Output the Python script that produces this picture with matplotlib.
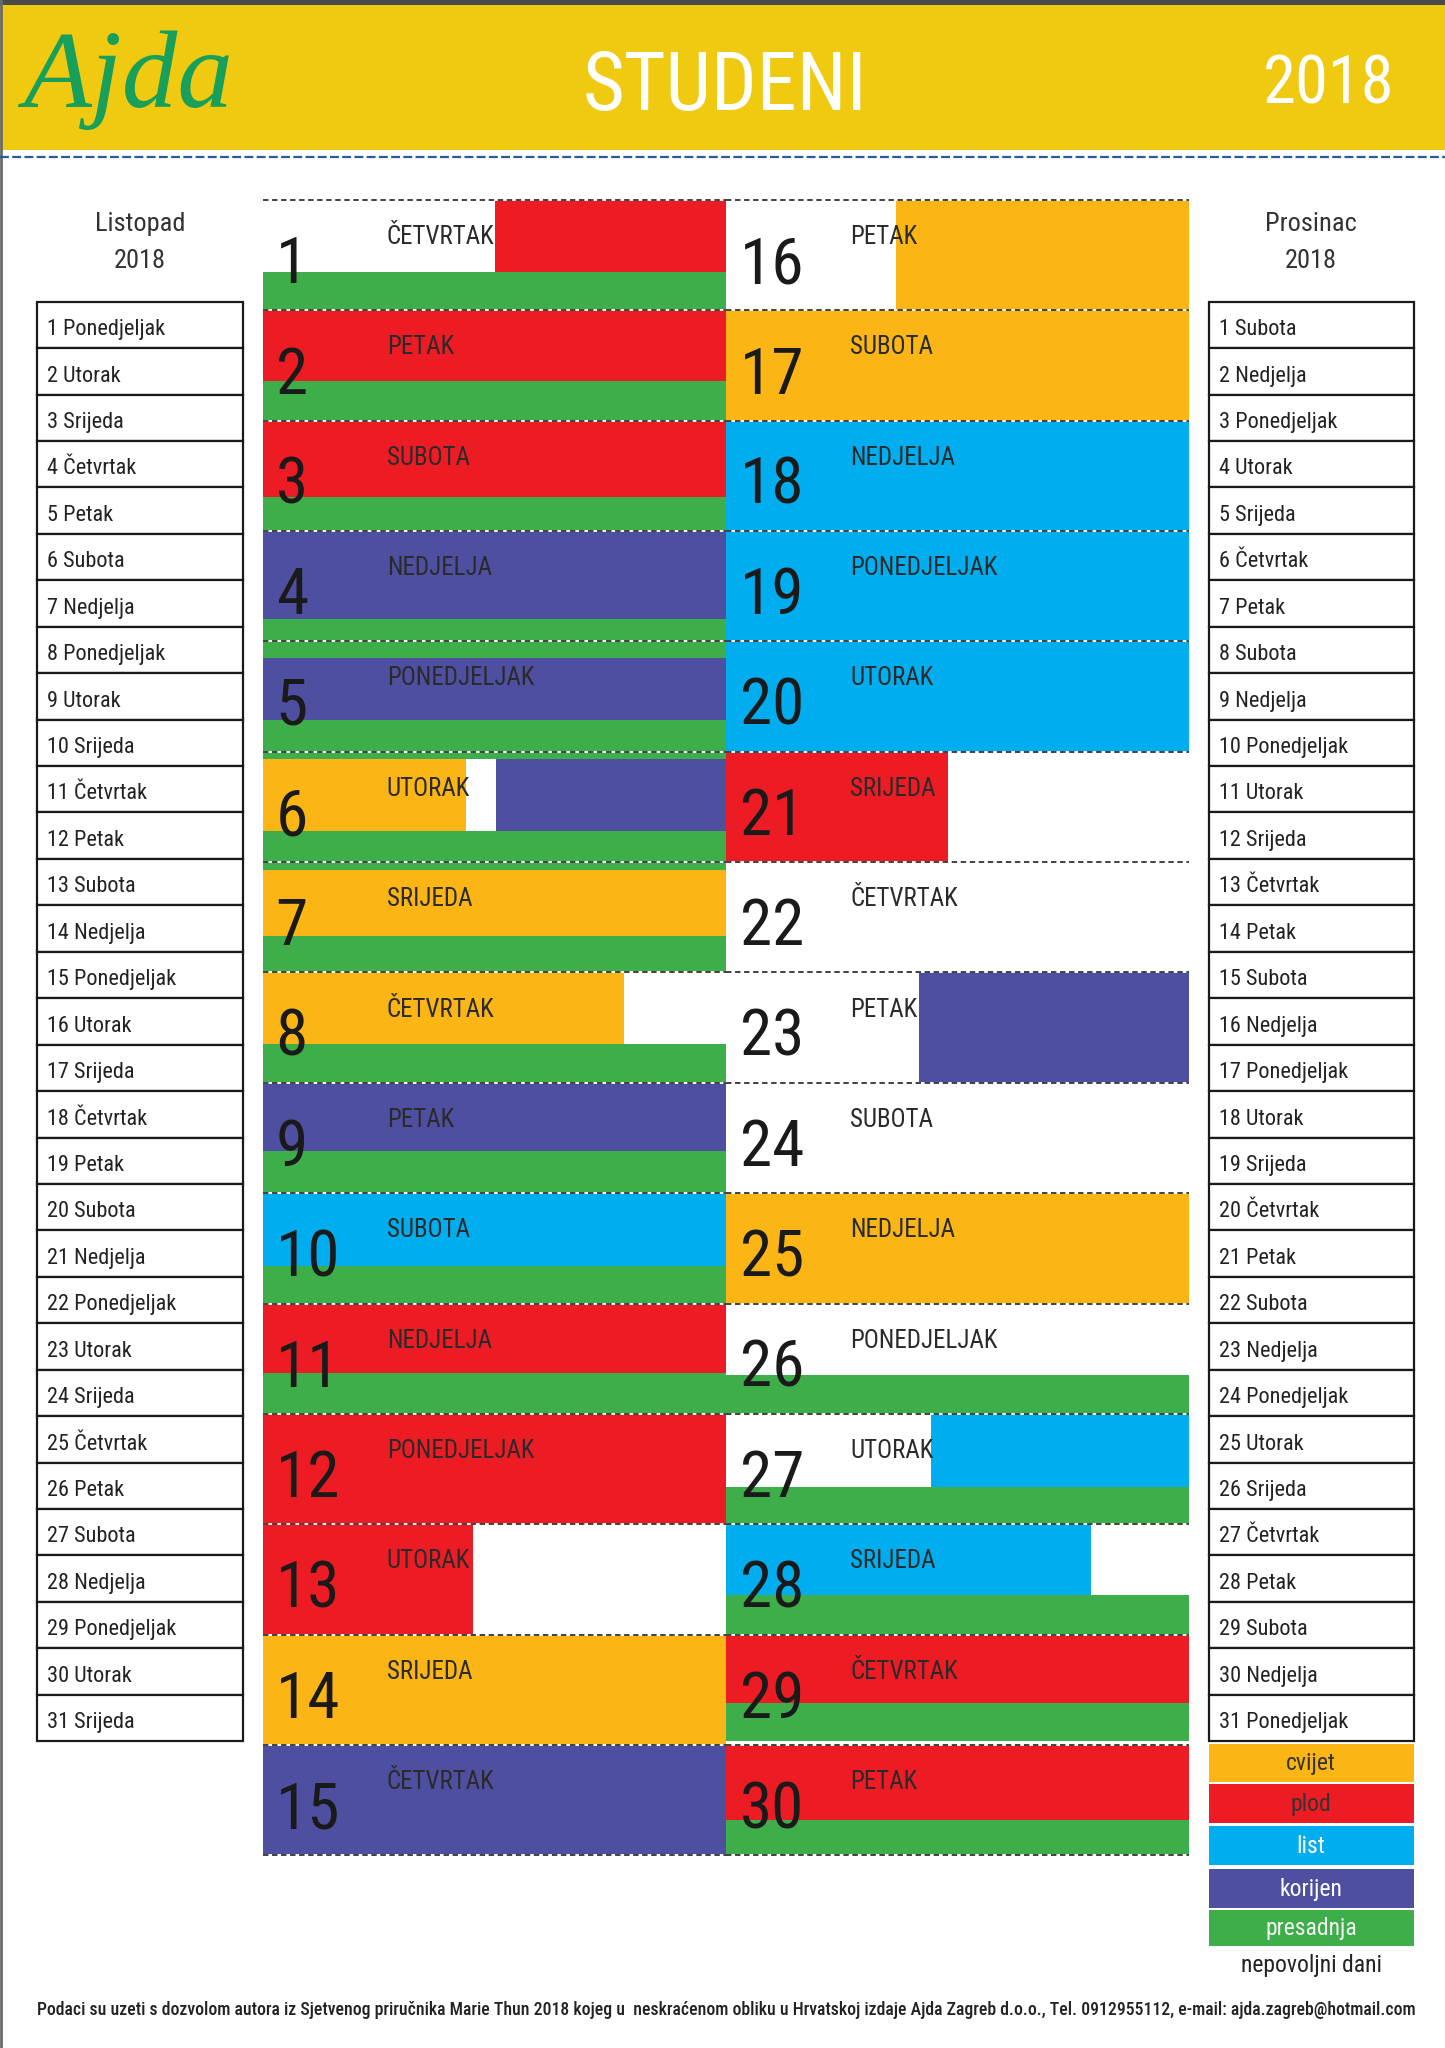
import matplotlib
matplotlib.use('Agg')
import matplotlib.pyplot as plt
from matplotlib.patches import Rectangle

# ---------------- data ----------------
month_title = 'STUDENI'
year_label = '2018'
days = list(range(1, 31))
weekdays = ['ČETVRTAK', 'PETAK', 'SUBOTA', 'NEDJELJA', 'PONEDJELJAK', 'UTORAK', 'SRIJEDA',
            'ČETVRTAK', 'PETAK', 'SUBOTA', 'NEDJELJA', 'PONEDJELJAK', 'UTORAK', 'SRIJEDA',
            'ČETVRTAK', 'PETAK', 'SUBOTA', 'NEDJELJA', 'PONEDJELJAK', 'UTORAK', 'SRIJEDA',
            'ČETVRTAK', 'PETAK', 'SUBOTA', 'NEDJELJA', 'PONEDJELJAK', 'UTORAK', 'SRIJEDA',
            'ČETVRTAK', 'PETAK']

# upper band of each day: (day, from hour, to hour, element)
segment_day = [1, 2, 3, 4, 5, 6, 6, 7, 8, 9, 10, 11, 12, 13, 14, 15,
               16, 17, 18, 19, 20, 21, 23, 25, 27, 28, 29, 30]
segment_start = [12.0, 0, 0, 0, 0, 0, 12.1, 0, 0, 0, 0, 0, 0, 0, 0, 0,
                 8.8, 0, 0, 0, 0, 0, 10.0, 0, 10.6, 0, 0, 0]
segment_end = [24, 24, 24, 24, 24, 10.5, 24, 24, 18.7, 24, 24, 24, 24, 10.9, 24, 24,
               24, 24, 24, 24, 24, 11.5, 24, 24, 24, 18.9, 24, 24]
segment_element = ['plod', 'plod', 'plod', 'korijen', 'korijen', 'cvijet', 'korijen', 'cvijet',
                   'cvijet', 'korijen', 'list', 'plod', 'plod', 'plod', 'cvijet', 'korijen',
                   'cvijet', 'cvijet', 'list', 'list', 'list', 'plod', 'korijen', 'cvijet',
                   'list', 'list', 'plod', 'plod']

# presadnja (green) strips: (day, from, to) as fraction of the day's row
green_day = [1, 2, 3, 4, 5, 5, 6, 6, 7, 7, 8, 9, 10, 11, 26, 27, 28, 29, 30]
green_from = [0.65, 0.64, 0.69, 0.80, 0.00, 0.71, 0.00, 0.72, 0.00, 0.67, 0.65, 0.62, 0.66,
              0.63, 0.65, 0.66, 0.64, 0.62, 0.68]
green_to = [1.0, 1.0, 1.0, 1.0, 0.15, 1.0, 0.07, 1.0, 0.07, 1.0, 1.0, 1.0, 1.0,
            1.0, 1.0, 1.0, 1.0, 0.96, 1.0]

prev_month = 'Listopad'
prev_month_days = ['1 Ponedjeljak', '2 Utorak', '3 Srijeda', '4 Četvrtak', '5 Petak', '6 Subota',
                   '7 Nedjelja', '8 Ponedjeljak', '9 Utorak', '10 Srijeda', '11 Četvrtak',
                   '12 Petak', '13 Subota', '14 Nedjelja', '15 Ponedjeljak', '16 Utorak',
                   '17 Srijeda', '18 Četvrtak', '19 Petak', '20 Subota', '21 Nedjelja',
                   '22 Ponedjeljak', '23 Utorak', '24 Srijeda', '25 Četvrtak', '26 Petak',
                   '27 Subota', '28 Nedjelja', '29 Ponedjeljak', '30 Utorak', '31 Srijeda']
next_month = 'Prosinac'
next_month_days = ['1 Subota', '2 Nedjelja', '3 Ponedjeljak', '4 Utorak', '5 Srijeda',
                   '6 Četvrtak', '7 Petak', '8 Subota', '9 Nedjelja', '10 Ponedjeljak',
                   '11 Utorak', '12 Srijeda', '13 Četvrtak', '14 Petak', '15 Subota',
                   '16 Nedjelja', '17 Ponedjeljak', '18 Utorak', '19 Srijeda', '20 Četvrtak',
                   '21 Petak', '22 Subota', '23 Nedjelja', '24 Ponedjeljak', '25 Utorak',
                   '26 Srijeda', '27 Četvrtak', '28 Petak', '29 Subota', '30 Nedjelja',
                   '31 Ponedjeljak']

legend_labels = ['cvijet', 'plod', 'list', 'korijen', 'presadnja']
legend_last = 'nepovoljni dani'
footer = ('Podaci su uzeti s dozvolom autora iz Sjetvenog priručnika Marie Thun 2018 kojeg u  '
          'neskraćenom obliku u Hrvatskoj izdaje Ajda Zagreb d.o.o., Tel. 0912955112, '
          'e-mail: ajda.zagreb@hotmail.com')

# ---------------- style ----------------
element_colors = {'cvijet': '#FBB515', 'plod': '#ED1C24', 'list': '#00AEEF',
                  'korijen': '#4F4FA1', 'presadnja': '#3DAE49'}
legend_text_colors = ['#333333', '#333333', 'white', 'white', '#F2F2F2']
HEADER = '#F0C911'
INK = '#222222'

FONT = ['Ubuntu Condensed', 'Roboto Condensed', 'Liberation Sans Narrow', 'DejaVu Sans',
        'Noto Sans']
plt.rcParams['font.family'] = FONT
plt.rcParams['font.stretch'] = 'condensed'

W, H = 1106, 1568          # layout units
fig = plt.figure(figsize=(14.45, 20.48), dpi=100)
base = fig.add_axes([0, 0, 1, 1])
base.set_xlim(0, W)
base.set_ylim(H, 0)
base.axis('off')


def frac_rect(x0, y0, x1, y1):
    return [x0 / W, 1 - y1 / H, (x1 - x0) / W, (y1 - y0) / H]


# header
base.add_patch(Rectangle((0, 0), W, 3.5, color='#4a4a4a', lw=0))
base.add_patch(Rectangle((0, 3.5), W, 111.5, color=HEADER, lw=0))
base.plot([1, 1], [0, H], color='#6a6a6a', lw=2)
base.plot([0, W], [120, 120], color='#2c5a9a', lw=1.6, dashes=(4, 1.5))
base.text(555, 84, month_title, color='white', fontsize=58, ha='center', va='baseline')
base.text(1017, 79, year_label, color='white', fontsize=48, ha='center', va='baseline')
base.text(18, 82, 'Ajda', color='#18A05A', fontsize=80, ha='left', va='baseline',
          family=['Liberation Serif', 'DejaVu Serif'], fontstyle='italic',
          fontweight='light', stretch='normal')

# grid of days
grid_top, row_h, n_rows = 153, 84.5, 15
cols = [(201, 556), (556, 910)]
axes = []
for x0, x1 in cols:
    ax = fig.add_axes(frac_rect(x0, grid_top, x1, grid_top + n_rows * row_h))
    ax.set_xlim(0, 24)
    ax.set_ylim(n_rows, 0)
    ax.axis('off')
    axes.append(ax)

last_green_start = {}
for d, g0 in zip(green_day, green_from):
    if g0 > 0:
        last_green_start[d] = g0

for d, s, e, el in zip(segment_day, segment_start, segment_end, segment_element):
    ax = axes[(d - 1) // n_rows]
    r = (d - 1) % n_rows
    f1 = last_green_start.get(d, 1.0)
    ax.barh(r + f1 / 2, e - s, left=s, height=f1, color=element_colors[el], lw=0)

for d, g0, g1 in zip(green_day, green_from, green_to):
    ax = axes[(d - 1) // n_rows]
    r = (d - 1) % n_rows
    ax.barh(r + (g0 + g1) / 2, 24, left=0, height=g1 - g0,
            color=element_colors['presadnja'], lw=0)

for ax in axes:
    ax.hlines(range(n_rows + 1), 0, 24, colors='white', lw=1.3, clip_on=False)
    ax.hlines(range(n_rows + 1), 0, 24, colors='#333333', lw=1.3,
              linestyles=(0, (3, 2)), clip_on=False)

for d, wd in zip(days, weekdays):
    ax = axes[(d - 1) // n_rows]
    r = (d - 1) % n_rows
    ax.text(0.68, r + 0.755, str(d), fontsize=47, color='#1a1a1a', ha='left', va='baseline')
    ax.text(6.42, r + 0.40, wd, fontsize=18, color='#2a2a2a', ha='left', va='baseline')

# side month tables
tab_top, tab_row = 231, 35.55
for (tx0, tx1), title, entries in [((28, 186), prev_month, prev_month_days),
                                   ((925, 1082), next_month, next_month_days)]:
    cx = (tx0 + tx1) / 2
    base.text(cx, 177, title, fontsize=19, color='#333333', ha='center', va='baseline')
    base.text(cx, 205, year_label, fontsize=19, color='#333333', ha='center', va='baseline')
    for i, label in enumerate(entries):
        y = tab_top + i * tab_row
        base.add_patch(Rectangle((tx0, y), tx1 - tx0, tab_row, facecolor='white',
                                 edgecolor='#1a1a1a', lw=1.6))
        base.text(tx0 + 8, y + tab_row * 0.72, label, fontsize=16, color=INK,
                  ha='left', va='baseline', fontweight='normal')

# legend
leg_top = [1335, 1366, 1398, 1431, 1462]
leg_bot = [1364, 1396, 1428, 1461, 1490]
for lab, t, b, tc in zip(legend_labels, leg_top, leg_bot, legend_text_colors):
    base.add_patch(Rectangle((925, t), 1082 - 925, b - t, color=element_colors[lab], lw=0))
    base.text(1003.5, (t + b) / 2 + 5.5, lab, fontsize=17, color=tc, ha='center',
              va='baseline', fontweight='normal')
base.text(1003.5, 1510, legend_last, fontsize=17, color=INK, ha='center', va='baseline',
          fontweight='normal')

# footer, fitted to its width
ft = base.text(28, 1543, footer, fontsize=12, color=INK, ha='left', va='baseline',
               fontweight='medium')
fig.canvas.draw()
bb = ft.get_window_extent()
target_px = (1082 - 28) * fig.get_figwidth() * fig.dpi / W
ft.set_fontsize(12 * target_px / bb.width)

fig.savefig('out.png', dpi=100)
